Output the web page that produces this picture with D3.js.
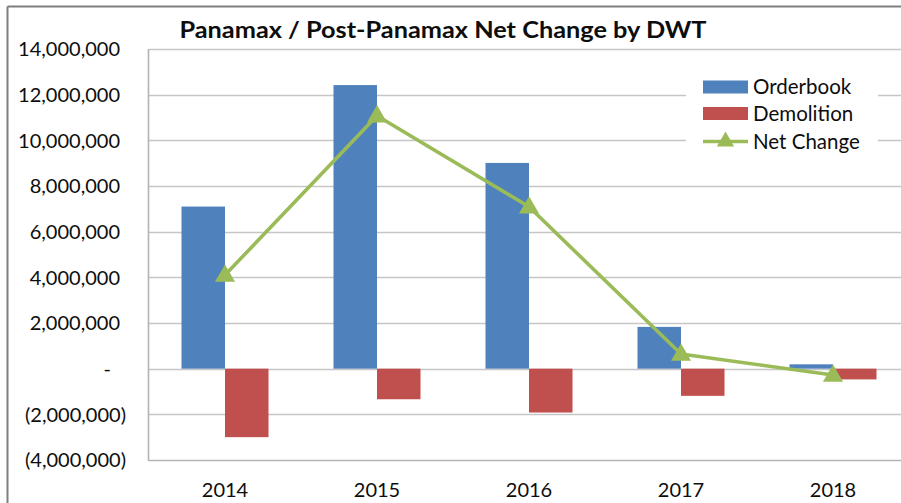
<!DOCTYPE html>
<html>
<head>
<meta charset="utf-8">
<script src="https://cdn.jsdelivr.net/npm/d3@7"></script>
<style>
  html, body { margin: 0; padding: 0; background: #ffffff; }
  svg { display: block; }
  text { font-family: Lato, "Open Sans", sans-serif; fill: #0d0d0d; }
</style>
</head>
<body>
<svg id="chart" width="901" height="503"></svg>
<script>
const title = "Panamax / Post-Panamax Net Change by DWT";
const years = ["2014", "2015", "2016", "2017", "2018"];
const orderbook = [7100000, 12420000, 9010000, 1830000, 190000];
const demolition = [-3000000, -1340000, -1920000, -1190000, -470000];
const netChange = [4100000, 11080000, 7090000, 640000, -280000];
const seriesNames = ["Orderbook", "Demolition", "Net Change"];
const yTicks = [-4000000, -2000000, 0, 2000000, 4000000, 6000000, 8000000, 10000000, 12000000, 14000000];

const colors = { Orderbook: "#4F81BD", Demolition: "#C0504D", "Net Change": "#9BBB59" };

const svg = d3.select("#chart");
const W = 901, H = 503;
const plot = { left: 149, right: 909, top: 49, bottom: 460 };

// outer frame
svg.append("line").attr("x1", 7.5).attr("x2", 7.5).attr("y1", 6.5).attr("y2", H)
  .attr("stroke", "#7f7f7f").attr("stroke-width", 2);
svg.append("line").attr("x1", 7.5).attr("x2", W).attr("y1", 6.5).attr("y2", 6.5)
  .attr("stroke", "#7f7f7f").attr("stroke-width", 2);

const y = d3.scaleLinear().domain([-4000000, 14000000]).range([plot.bottom, plot.top]);
const pIn = 0.4276;
const x0 = d3.scaleBand().domain(years).range([plot.left, plot.right])
  .paddingInner(pIn).paddingOuter(pIn / 2);
const x1 = d3.scaleBand().domain(["Orderbook", "Demolition"]).range([0, x0.bandwidth()]);

// gridlines
svg.append("g").selectAll("line").data(yTicks).join("line")
  .attr("x1", plot.left).attr("x2", plot.right)
  .attr("y1", d => Math.round(y(d)) + 0.5).attr("y2", d => Math.round(y(d)) + 0.5)
  .attr("stroke", d => d === -4000000 ? "#b3b3b3" : "#c6c6c6").attr("stroke-width", 1.6);

// left axis line
svg.append("line").attr("x1", plot.left - 0.5).attr("x2", plot.left - 0.5)
  .attr("y1", plot.top).attr("y2", plot.bottom + 1)
  .attr("stroke", "#b3b3b3").attr("stroke-width", 1.6);

// y tick labels (accounting format)
const fmt = d3.format(",");
const yLab = svg.append("g");
yTicks.forEach(v => {
  let label, xPos;
  if (v === 0) { label = "-"; xPos = 111; }
  else if (v < 0) { label = "(" + fmt(-v) + ")"; xPos = 126; }
  else { label = fmt(v); xPos = 120; }
  yLab.append("text").attr("x", xPos).attr("y", y(v)).attr("dy", "0.36em")
    .attr("text-anchor", "end").attr("font-size", 20).text(label);
});

// bars
const barData = [];
years.forEach((yr, i) => {
  barData.push({ yr, key: "Orderbook", v: orderbook[i] });
  barData.push({ yr, key: "Demolition", v: demolition[i] });
});
svg.append("g").selectAll("rect").data(barData).join("rect")
  .attr("x", d => x0(d.yr) + x1(d.key))
  .attr("width", x1.bandwidth())
  .attr("y", d => y(Math.max(0, d.v)))
  .attr("height", d => Math.abs(y(d.v) - y(0)))
  .attr("fill", d => colors[d.key]);

// net change line
const cx = yr => x0(yr) + x0.bandwidth() / 2;
const line = d3.line().x((d, i) => cx(years[i])).y(d => y(d));
svg.append("path").datum(netChange).attr("d", line)
  .attr("fill", "none").attr("stroke", colors["Net Change"]).attr("stroke-width", 3.6)
  .attr("stroke-linejoin", "round");
const tri = d3.symbol().type(d3.symbolTriangle).size(175);
svg.append("g").selectAll("path").data(netChange).join("path")
  .attr("d", tri)
  .attr("transform", (d, i) => `translate(${cx(years[i])},${y(d) + 1})`)
  .attr("fill", colors["Net Change"]);

// x labels
svg.append("g").selectAll("text").data(years).join("text")
  .attr("x", d => cx(d)).attr("y", 497)
  .attr("text-anchor", "middle").attr("font-size", 20).text(d => d);

// title
svg.append("text").attr("x", 443).attr("y", 38).attr("text-anchor", "middle")
  .attr("font-size", 23).attr("font-weight", "bold")
  .attr("textLength", 527).attr("lengthAdjust", "spacingAndGlyphs").text(title);

// legend
const lg = svg.append("g");
lg.append("rect").attr("x", 686).attr("y", 72).attr("width", 192).attr("height", 84).attr("fill", "#fff");
const legendY = [87, 113.5, 141.5];
seriesNames.forEach((name, i) => {
  const ly = legendY[i];
  if (name === "Net Change") {
    lg.append("line").attr("x1", 703).attr("x2", 748).attr("y1", ly).attr("y2", ly)
      .attr("stroke", colors[name]).attr("stroke-width", 3.6);
    lg.append("path").attr("d", d3.symbol().type(d3.symbolTriangle).size(130))
      .attr("transform", `translate(725.5,${ly})`).attr("fill", colors[name]);
  } else {
    lg.append("rect").attr("x", 703).attr("y", ly - 6.5).attr("width", 45).attr("height", 13)
      .attr("fill", colors[name]);
  }
  lg.append("text").attr("x", 753).attr("y", ly).attr("dy", "0.36em")
    .attr("font-size", 20.5).text(name);
});
</script>
</body>
</html>
